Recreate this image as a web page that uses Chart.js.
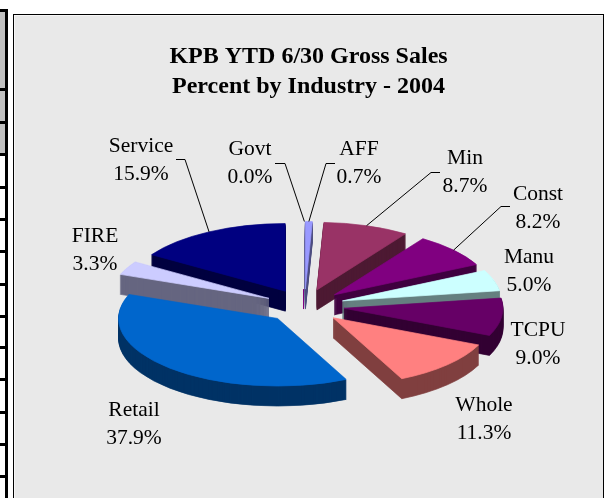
<!DOCTYPE html>
<html>
<head>
<meta charset="utf-8">
<script src="https://cdn.jsdelivr.net/npm/chart.js@4/dist/chart.umd.min.js"></script>
<style>
html,body{margin:0;padding:0;background:#fff;overflow:hidden}
#page{position:relative;width:608px;height:498px;overflow:hidden}
#frame{position:absolute;left:13px;top:14px;width:589px;height:500px;background:#e9e9e9;border:1px solid #000;box-shadow:inset 1px 1px 0 #f6f6f6}
#spine{position:absolute;left:0;top:9px;width:5px;height:144px;background:#c0c0c0}
#line{position:absolute;left:5px;top:9px;width:3px;height:489px;background:#000}
.rule{position:absolute;left:0;width:6px;height:3px;background:#000}
canvas{position:absolute;left:0;top:0}
</style>
</head>
<body>
<div id="page">
<div id="spine"></div><div id="line"></div>
<div id="frame"></div>
<canvas id="c" width="608" height="498"></canvas>
</div>
<script>
const categories = ['AFF','Min','Const','Manu','TCPU','Whole','Retail','FIRE','Service','Govt'];
const percents   = [0.7, 8.7, 8.2, 5.0, 9.0, 11.3, 37.9, 3.3, 15.9, 0.02];
const topColors  = ['#9999ff','#993366','#800080','#ccffff','#660066','#ff8080','#0066cc','#ccccff','#000080','#ff00ff'];
const wallColors = ['#4d4d80','#4d1a33','#400040','#668080','#330033','#804040','#003366','#666680','#000040','#800080'];
const titleLines = ['KPB YTD 6/30 Gross Sales','Percent by Industry - 2004'];
const ruleTops   = [9,88,121,153,186,218,250,283,315,346,378,411,443,475];

// view of the tilted, exploded pie
const view = {cx:304.5, cy:306, tilt:0.425, depth:20, explode:39.8, radius:159};
const paintOrder = [9,0,1,8,2,7,3,4,5,6];
const labelFont = '21.5px "Liberation Serif"';
const labelPlaces = {
  Service:{x:141,y:152,elbow:[176,159,185]}, Govt:{x:250,y:155,elbow:[275,163,285]},
  AFF:{x:359,y:155,elbow:[335,163,326]},     Min:{x:465,y:164,elbow:[440,172,431]},
  Const:{x:538,y:200,elbow:[510,206,501]},   Manu:{x:529,y:263},
  TCPU:{x:538,y:336},  Whole:{x:484,y:411},  Retail:{x:134,y:416}, FIRE:{x:95,y:242}
};

ruleTops.forEach(t=>{const d=document.createElement('div');d.className='rule';d.style.top=t+'px';document.getElementById('page').appendChild(d);});

function place(ctx, arc, extra){
  const mid=(arc.startAngle+arc.endAngle)/2;
  ctx.translate(view.cx+Math.cos(mid)*view.explode, view.cy+Math.sin(mid)*view.explode*view.tilt+extra);
  ctx.scale(1,view.tilt);
  ctx.translate(-arc.x,-arc.y);
}
const tiltedPie = {
  id:'tiltedPie',
  beforeDatasetDraw(chart,args){
    const ctx=chart.ctx, arcs=chart.getDatasetMeta(args.index).data;
    paintOrder.forEach(i=>{
      const arc=arcs[i], o=arc.options;
      const mid=(arc.startAngle+arc.endAngle)/2;
      if(arc.circumference<0.01){ // a sliver: only its cut face shows
        const ax=view.cx+Math.cos(mid)*view.explode, ay=view.cy+Math.sin(mid)*view.explode*view.tilt;
        ctx.save();ctx.strokeStyle=wallColors[i];ctx.lineWidth=1;
        ctx.beginPath();ctx.moveTo(Math.round(ax)-0.5,ay);ctx.lineTo(Math.round(ax)-0.5,ay+view.depth);ctx.stroke();ctx.restore();
        return;
      }
      arc.options=Object.assign({},o,{backgroundColor:wallColors[i],borderColor:wallColors[i],borderWidth:1,borderJoinStyle:'round'});
      for(let d=view.depth;d>=1;d--){ctx.save();place(ctx,arc,d);arc.draw(ctx);ctx.restore();}
      arc.options=Object.assign({},o,{borderColor:topColors[i],borderWidth:1,borderJoinStyle:'round'});
      ctx.save();place(ctx,arc,0);arc.draw(ctx);ctx.restore();
      arc.options=o;
    });
    return false;
  },
  afterDraw(chart){
    const ctx=chart.ctx, arcs=chart.getDatasetMeta(0).data;
    ctx.save();
    ctx.font=labelFont;ctx.textAlign='center';ctx.textBaseline='alphabetic';ctx.fillStyle='#000';
    categories.forEach((name,i)=>{
      const p=labelPlaces[name];
      const v=percents[i].toFixed(1)+'%';
      ctx.fillText(name,p.x,p.y);
      ctx.fillText(v,p.x,p.y+27.5);
      if(p.elbow){
        const arc=arcs[i], mid=(arc.startAngle+arc.endAngle)/2;
        const rx=view.cx+Math.cos(mid)*(view.explode+view.radius);
        const ry=view.cy+Math.sin(mid)*(view.explode+view.radius)*view.tilt;
        ctx.strokeStyle='#000';ctx.lineWidth=1;
        ctx.beginPath();ctx.moveTo(p.elbow[0],p.elbow[1]+0.5);ctx.lineTo(p.elbow[2],p.elbow[1]+0.5);ctx.lineTo(rx,ry);ctx.stroke();
      }
    });
    ctx.restore();
  }
};

new Chart(document.getElementById('c'),{
  type:'pie',
  data:{labels:categories,datasets:[{data:percents,backgroundColor:topColors,borderWidth:0}]},
  plugins:[tiltedPie],
  options:{
    responsive:false,animation:false,
    radius:view.radius,
    layout:{padding:{left:9}},
    plugins:{
      legend:{display:false},tooltip:{enabled:false},
      title:{display:true,text:titleLines,fullSize:false,color:'#000',
        font:{family:'"Liberation Serif"',size:24,weight:'bold',lineHeight:'30px'},
        padding:{top:42,bottom:0}}
    }
  }
});
</script>
</body>
</html>
